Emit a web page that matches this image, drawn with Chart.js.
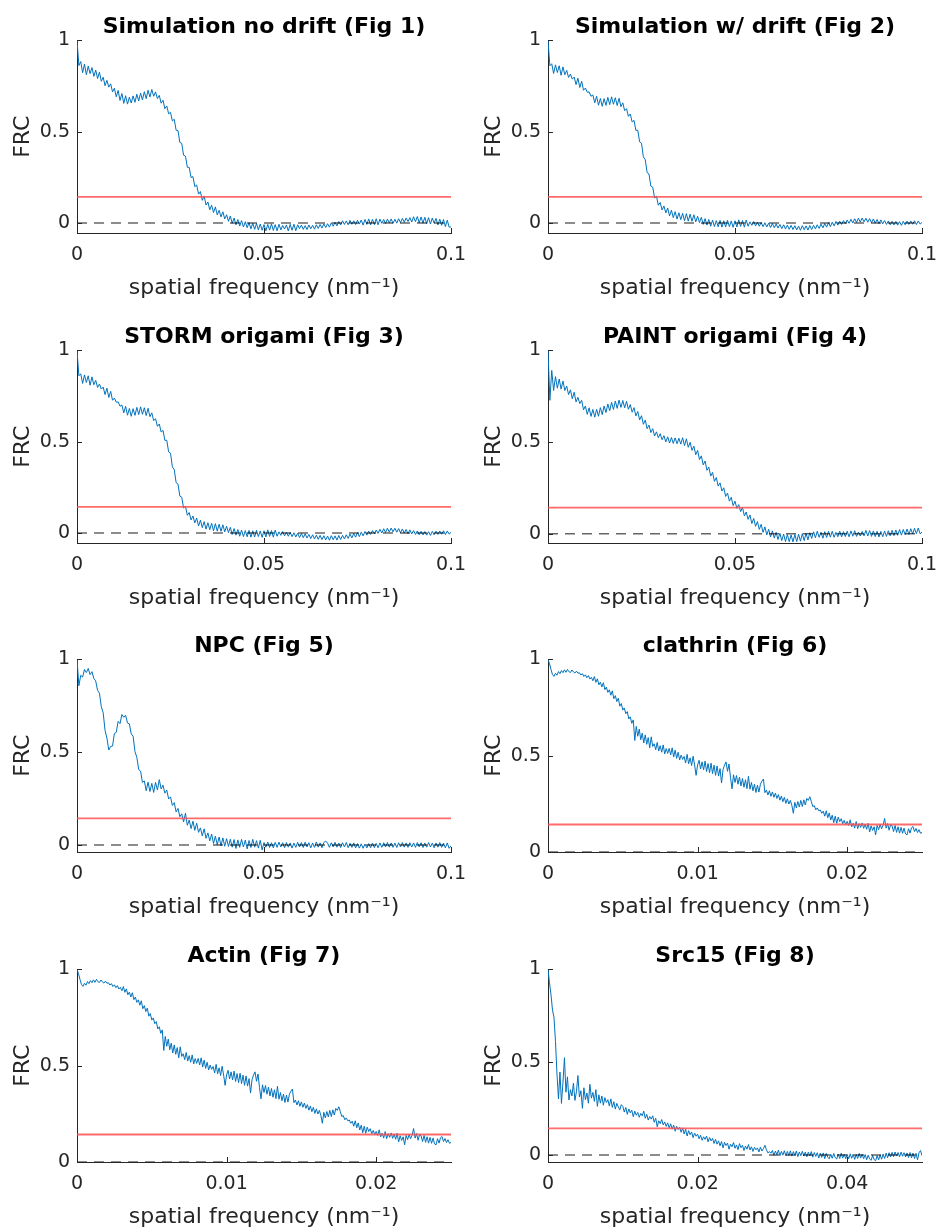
<!DOCTYPE html>
<html>
<head>
<meta charset="utf-8">
<script src="https://cdn.jsdelivr.net/npm/chart.js@4.4.1/dist/chart.umd.min.js"></script>
<style>
  body { margin: 0; background: #fff; }
  #wrap { position: relative; width: 939px; height: 1228px; overflow: hidden; }
  canvas { position: absolute; }
</style>
</head>
<body>
<div id="wrap">
  <canvas id="c1" width="470" height="309" style="left:0px;top:0px"></canvas>
  <canvas id="c2" width="470" height="309" style="left:471px;top:0px"></canvas>
  <canvas id="c3" width="470" height="309" style="left:0px;top:310px"></canvas>
  <canvas id="c4" width="470" height="309" style="left:471px;top:310px"></canvas>
  <canvas id="c5" width="470" height="309" style="left:0px;top:619px"></canvas>
  <canvas id="c6" width="470" height="309" style="left:471px;top:619px"></canvas>
  <canvas id="c7" width="470" height="309" style="left:0px;top:929px"></canvas>
  <canvas id="c8" width="470" height="309" style="left:471px;top:929px"></canvas>
</div>
<script>
// titles of the 8 panels
const titles = [
    'Simulation no drift (Fig 1)', 'Simulation w/ drift (Fig 2)',
    'STORM origami (Fig 3)', 'PAINT origami (Fig 4)',
    'NPC (Fig 5)', 'clathrin (Fig 6)',
    'Actin (Fig 7)', 'Src15 (Fig 8)'
];

const frcThreshold = 1 / 7;

// FRC curves, sampled every 0.0005 nm^-1 from 0 to 0.1
const simNoDrift = [
    1.000, 0.862, 0.884, 0.823, 0.871, 0.812, 0.859, 0.818, 0.851, 0.803,
    0.838, 0.791, 0.826, 0.776, 0.798, 0.752, 0.781, 0.744, 0.762, 0.718,
    0.738, 0.691, 0.726, 0.671, 0.709, 0.655, 0.697, 0.651, 0.689, 0.657,
    0.696, 0.661, 0.705, 0.668, 0.711, 0.674, 0.719, 0.681, 0.727, 0.690,
    0.731, 0.694, 0.718, 0.681, 0.699, 0.656, 0.672, 0.626, 0.641, 0.598,
    0.606, 0.559, 0.568, 0.508, 0.506, 0.441, 0.436, 0.371, 0.366, 0.305,
    0.304, 0.249, 0.254, 0.199, 0.208, 0.158, 0.172, 0.124, 0.148, 0.098,
    0.115, 0.072, 0.097, 0.057, 0.088, 0.044, 0.069, 0.033, 0.061, 0.022,
    0.045, 0.009, 0.038, -0.002, 0.027, -0.010, 0.019, -0.017, 0.013, -0.022,
    0.007, -0.026, 0.002, -0.032, -0.001, -0.035, -0.003, -0.038, -0.006, -0.040,
    -0.009, -0.043, -0.008, -0.039, -0.005, -0.041, -0.009, -0.043, -0.007, -0.038,
    -0.014, -0.033, -0.011, -0.044, -0.008, -0.040, -0.007, -0.042, -0.010, -0.031,
    -0.012, -0.035, -0.015, -0.036, -0.011, -0.032, -0.013, -0.034, -0.010, -0.030,
    -0.008, -0.028, -0.005, -0.025, -0.004, -0.023, 0.001, -0.018, 0.004, -0.016,
    0.008, -0.011, 0.012, -0.008, 0.011, -0.010, 0.014, -0.007, 0.012, -0.009,
    0.015, -0.006, 0.016, -0.012, 0.019, -0.008, 0.022, -0.011, 0.020, -0.009,
    0.023, -0.010, 0.021, -0.002, 0.019, -0.003, 0.021, 0.001, 0.022, -0.002,
    0.020, -0.001, 0.023, 0.002, 0.025, 0.004, 0.027, 0.008, 0.029, 0.005,
    0.034, 0.007, 0.035, 0.001, 0.033, -0.001, 0.031, -0.004, 0.029, -0.006,
    0.027, -0.001, 0.025, -0.011, 0.021, -0.013, 0.019, -0.020, 0.015, -0.022,
    -0.022
];

const simDrift = [
    1.000, 0.861, 0.872, 0.819, 0.866, 0.824, 0.861, 0.809, 0.855, 0.812,
    0.836, 0.797, 0.816, 0.788, 0.799, 0.758, 0.793, 0.742, 0.776, 0.727,
    0.739, 0.716, 0.718, 0.694, 0.701, 0.658, 0.694, 0.645, 0.682, 0.639,
    0.681, 0.644, 0.688, 0.648, 0.691, 0.650, 0.686, 0.643, 0.683, 0.637,
    0.658, 0.615, 0.626, 0.584, 0.597, 0.553, 0.562, 0.507, 0.508, 0.444,
    0.437, 0.362, 0.347, 0.276, 0.268, 0.202, 0.196, 0.137, 0.146, 0.097,
    0.112, 0.071, 0.093, 0.055, 0.082, 0.038, 0.070, 0.029, 0.062, 0.021,
    0.056, 0.018, 0.053, 0.012, 0.051, 0.010, 0.048, 0.009, 0.045, 0.006,
    0.037, 0.002, 0.031, -0.008, 0.024, -0.012, 0.019, -0.018, 0.016, -0.020,
    0.013, -0.021, 0.014, -0.023, 0.012, -0.022, 0.015, -0.020, 0.011, -0.024,
    0.012, -0.022, 0.017, -0.019, 0.013, -0.023, 0.016, -0.018, 0.006, -0.013,
    0.008, -0.016, 0.004, -0.018, 0.003, -0.020, 0.001, -0.022, -0.001, -0.025,
    -0.003, -0.026, -0.005, -0.028, -0.008, -0.031, -0.010, -0.033, -0.012, -0.035,
    -0.013, -0.036, -0.015, -0.038, -0.017, -0.040, -0.015, -0.037, -0.016, -0.039,
    -0.014, -0.036, -0.013, -0.033, -0.010, -0.030, -0.006, -0.027, -0.003, -0.023,
    0.002, -0.020, 0.004, -0.016, 0.008, -0.012, 0.010, -0.008, 0.013, -0.004,
    0.016, -0.002, 0.020, 0.000, 0.023, 0.003, 0.026, 0.005, 0.027, 0.006,
    0.026, 0.004, 0.024, 0.001, 0.022, -0.001, 0.019, -0.004, 0.017, -0.005,
    0.013, -0.008, 0.011, -0.010, 0.009, -0.011, 0.008, -0.012, 0.007, -0.013,
    0.009, -0.010, 0.010, -0.008, 0.011, -0.007, 0.012, -0.009, 0.011, -0.006,
    0.003
];

// STORM origami looks the same as the drift simulation
const stormOrigami = simDrift;

const paintOrigami = [
    1.000, 0.728, 0.891, 0.781, 0.857, 0.794, 0.844, 0.789, 0.833, 0.781,
    0.806, 0.759, 0.785, 0.736, 0.772, 0.719, 0.744, 0.710, 0.728, 0.676,
    0.697, 0.651, 0.687, 0.640, 0.678, 0.636, 0.679, 0.641, 0.688, 0.650,
    0.697, 0.661, 0.708, 0.671, 0.717, 0.678, 0.724, 0.684, 0.729, 0.689,
    0.727, 0.687, 0.722, 0.679, 0.705, 0.663, 0.688, 0.643, 0.667, 0.621,
    0.644, 0.597, 0.620, 0.573, 0.593, 0.552, 0.573, 0.533, 0.556, 0.524,
    0.546, 0.513, 0.535, 0.501, 0.529, 0.495, 0.525, 0.493, 0.523, 0.491,
    0.521, 0.489, 0.524, 0.481, 0.518, 0.472, 0.499, 0.455, 0.478, 0.431,
    0.455, 0.405, 0.425, 0.376, 0.397, 0.346, 0.364, 0.315, 0.335, 0.286,
    0.307, 0.260, 0.278, 0.233, 0.251, 0.204, 0.222, 0.178, 0.199, 0.154,
    0.178, 0.139, 0.159, 0.121, 0.144, 0.098, 0.119, 0.079, 0.103, 0.056,
    0.084, 0.041, 0.067, 0.024, 0.052, 0.008, 0.038, -0.006, 0.025, -0.017,
    0.016, -0.023, 0.008, -0.031, 0.003, -0.037, -0.001, -0.042, -0.004, -0.043,
    -0.006, -0.044, -0.004, -0.042, -0.002, -0.040, 0.001, -0.037, 0.003, -0.033,
    0.006, -0.025, 0.011, -0.021, 0.014, -0.019, 0.009, -0.024, 0.012, -0.020,
    0.013, -0.018, 0.014, -0.019, 0.008, -0.016, 0.015, -0.017, 0.012, -0.015,
    0.014, -0.016, 0.016, -0.013, 0.017, -0.014, 0.010, -0.012, 0.013, -0.011,
    0.019, -0.012, 0.018, -0.014, 0.016, -0.015, 0.014, -0.017, 0.013, -0.016,
    0.015, -0.014, 0.017, -0.011, 0.019, -0.010, 0.021, -0.008, 0.023, -0.007,
    0.024, -0.005, 0.026, -0.003, 0.028, -0.001, 0.030, 0.001, 0.032, 0.000,
    0.010
];

const npc = [
    1.000, 0.858, 0.914, 0.905, 0.946, 0.929, 0.951, 0.918, 0.934, 0.897,
    0.884, 0.833, 0.818, 0.745, 0.712, 0.617, 0.576, 0.512, 0.531, 0.533,
    0.601, 0.607, 0.666, 0.654, 0.703, 0.688, 0.699, 0.657, 0.653, 0.598,
    0.586, 0.503, 0.472, 0.406, 0.398, 0.337, 0.345, 0.292, 0.339, 0.288,
    0.332, 0.283, 0.337, 0.296, 0.352, 0.302, 0.322, 0.279, 0.296, 0.248,
    0.259, 0.213, 0.228, 0.178, 0.197, 0.152, 0.168, 0.124, 0.171, 0.106,
    0.134, 0.088, 0.128, 0.079, 0.117, 0.068, 0.092, 0.049, 0.087, 0.036,
    0.065, 0.022, 0.059, 0.008, 0.047, 0.001, 0.043, -0.004, 0.038, -0.007,
    0.034, -0.008, 0.031, -0.012, 0.029, -0.019, 0.027, -0.013, 0.030, -0.011,
    0.026, -0.021, 0.024, -0.014, 0.030, -0.012, 0.023, -0.017, 0.025, -0.027,
    0.013, -0.012, 0.016, -0.014, 0.012, -0.016, 0.014, -0.013, 0.015, -0.011,
    0.012, -0.015, 0.013, -0.012, 0.011, -0.017, 0.010, -0.013, 0.014, -0.011,
    0.013, -0.014, 0.015, -0.011, 0.012, -0.016, 0.011, -0.013, 0.016, -0.012,
    0.011, -0.015, 0.013, 0.021, 0.010, -0.013, 0.012, -0.011, 0.014, -0.012,
    0.010, -0.014, 0.012, -0.011, 0.013, -0.015, 0.009, -0.013, 0.011, -0.016,
    0.007, -0.017, 0.006, -0.018, 0.005, -0.016, 0.007, -0.015, 0.010, -0.014,
    0.008, -0.015, 0.011, -0.013, 0.012, -0.011, 0.013, -0.012, 0.011, -0.013,
    0.010, -0.014, 0.012, -0.011, 0.013, -0.012, 0.011, -0.013, 0.012, -0.011,
    0.011, -0.013, 0.013, -0.010, 0.012, -0.014, 0.010, -0.012, 0.013, -0.011,
    0.010, -0.015, 0.011, -0.012, 0.013, -0.013, 0.010, -0.016, 0.011, -0.018,
    -0.004
];

// sampled every 0.0001 nm^-1 from 0 to 0.025
const clathrin = [
    1.000, 0.978, 0.948, 0.921, 0.912, 0.928, 0.918, 0.937, 0.926, 0.942,
    0.931, 0.946, 0.933, 0.948, 0.936, 0.932, 0.945, 0.935, 0.929, 0.939,
    0.928, 0.931, 0.919, 0.926, 0.911, 0.920, 0.905, 0.916, 0.898, 0.907,
    0.889, 0.911, 0.881, 0.899, 0.868, 0.882, 0.857, 0.879, 0.843, 0.856,
    0.829, 0.842, 0.814, 0.837, 0.796, 0.812, 0.781, 0.799, 0.757, 0.771,
    0.737, 0.748, 0.718, 0.729, 0.691, 0.702, 0.668, 0.686, 0.579, 0.652,
    0.601, 0.638, 0.583, 0.617, 0.566, 0.608, 0.559, 0.594, 0.541, 0.598,
    0.548, 0.562, 0.531, 0.569, 0.524, 0.552, 0.518, 0.556, 0.509, 0.537,
    0.512, 0.538, 0.504, 0.541, 0.493, 0.529, 0.486, 0.518, 0.478, 0.503,
    0.481, 0.496, 0.462, 0.507, 0.458, 0.489, 0.449, 0.497, 0.452, 0.398,
    0.452, 0.476, 0.431, 0.468, 0.426, 0.472, 0.418, 0.459, 0.412, 0.461,
    0.407, 0.451, 0.398, 0.447, 0.394, 0.433, 0.358, 0.428, 0.451, 0.468,
    0.419, 0.457, 0.386, 0.328, 0.401, 0.361, 0.397, 0.352, 0.389, 0.343,
    0.382, 0.336, 0.375, 0.329, 0.393, 0.326, 0.361, 0.318, 0.352, 0.309,
    0.347, 0.311, 0.352, 0.368, 0.379, 0.308, 0.322, 0.296, 0.318, 0.289,
    0.312, 0.284, 0.306, 0.278, 0.298, 0.269, 0.291, 0.261, 0.284, 0.252,
    0.276, 0.249, 0.268, 0.242, 0.201, 0.258, 0.229, 0.262, 0.234, 0.268,
    0.236, 0.271, 0.244, 0.278, 0.268, 0.287, 0.263, 0.236, 0.241, 0.219,
    0.229, 0.214, 0.218, 0.201, 0.212, 0.186, 0.214, 0.178, 0.203, 0.166,
    0.191, 0.152, 0.186, 0.149, 0.181, 0.158, 0.173, 0.147, 0.164, 0.142,
    0.159, 0.138, 0.167, 0.131, 0.149, 0.124, 0.158, 0.121, 0.147, 0.128,
    0.151, 0.123, 0.144, 0.118, 0.149, 0.104, 0.136, 0.112, 0.131, 0.089,
    0.138, 0.116, 0.143, 0.121, 0.139, 0.174, 0.124, 0.148, 0.113, 0.142,
    0.136, 0.106, 0.138, 0.102, 0.131, 0.098, 0.128, 0.097, 0.124, 0.094,
    0.089, 0.121, 0.098, 0.126, 0.132, 0.106, 0.122, 0.101, 0.116, 0.097,
    0.102
];

// Actin panel shows the same curve as clathrin
const actin = clathrin;

// sampled every 0.0002 nm^-1 from 0 to 0.05
const src15 = [
    1.000, 0.928, 0.864, 0.781, 0.742, 0.612, 0.436, 0.302, 0.447, 0.278,
    0.392, 0.524, 0.338, 0.421, 0.296, 0.352, 0.318, 0.387, 0.294, 0.341,
    0.428, 0.312, 0.346, 0.251, 0.362, 0.298, 0.334, 0.279, 0.381, 0.306,
    0.337, 0.289, 0.352, 0.262, 0.324, 0.279, 0.318, 0.268, 0.309, 0.283,
    0.298, 0.264, 0.302, 0.256, 0.287, 0.247, 0.278, 0.259, 0.243, 0.271,
    0.262, 0.231, 0.256, 0.219, 0.248, 0.227, 0.241, 0.206, 0.236, 0.214,
    0.229, 0.203, 0.224, 0.211, 0.236, 0.198, 0.219, 0.188, 0.207, 0.193,
    0.211, 0.176, 0.198, 0.152, 0.184, 0.169, 0.191, 0.162, 0.178, 0.154,
    0.173, 0.146, 0.168, 0.139, 0.161, 0.128, 0.154, 0.137, 0.149, 0.122,
    0.146, 0.113, 0.138, 0.102, 0.131, 0.109, 0.124, 0.093, 0.118, 0.101,
    0.112, 0.087, 0.106, 0.079, 0.098, 0.084, 0.102, 0.071, 0.094, 0.076,
    0.089, 0.062, 0.084, 0.058, 0.076, 0.049, 0.072, 0.038, 0.068, 0.051,
    0.064, 0.031, 0.058, 0.044, 0.067, 0.036, 0.054, 0.029, 0.061, 0.039,
    0.052, 0.024, 0.048, 0.031, 0.056, 0.027, 0.044, 0.019, 0.041, 0.028,
    0.038, 0.016, 0.042, 0.021, 0.034, 0.052, 0.028, 0.011, 0.018, 0.009,
    0.024, -0.002, 0.021, 0.001, 0.026, -0.004, 0.019, -0.001, 0.023, -0.005,
    0.019, -0.003, 0.022, -0.006, 0.018, -0.002, 0.021, -0.009, 0.016, -0.004,
    0.020, -0.006, 0.016, -0.010, 0.015, -0.005, 0.018, -0.012, 0.013, -0.008,
    0.012, -0.016, 0.010, -0.013, 0.011, -0.020, 0.009, -0.012, -0.021, 0.004,
    -0.018, 0.008, -0.015, -0.022, 0.005, -0.019, 0.009, -0.017, 0.004, -0.020,
    0.003, -0.021, 0.006, -0.018, 0.004, -0.024, 0.002, -0.019, 0.008, -0.017,
    0.004, -0.020, 0.002, -0.026, -0.001, -0.022, -0.029, -0.002, -0.025, -0.031,
    -0.004, -0.027, 0.001, -0.023, 0.005, -0.019, 0.010, -0.015, 0.012, -0.011,
    0.014, -0.009, 0.016, -0.006, 0.013, -0.010, 0.015, -0.007, 0.012, -0.011,
    0.011, -0.014, 0.013, -0.016, 0.010, -0.019, 0.009, -0.026, 0.012, 0.024,
    -0.004
];

// tick values
const yTickValues = [0, 0.5, 1];
const xTicksWide = [0, 0.05, 0.1];
const xTicksNarrow = [0, 0.01, 0.02];
const xTicksSrc = [0, 0.02, 0.04];

const panels = [
    { id: 'c1', title: titles[0], values: simNoDrift, step: 0.0005, xMax: 0.1, yMin: -0.055, xTicks: xTicksWide },
    { id: 'c2', title: titles[1], values: simDrift, step: 0.0005, xMax: 0.1, yMin: -0.055, xTicks: xTicksWide },
    { id: 'c3', title: titles[2], values: stormOrigami, step: 0.0005, xMax: 0.1, yMin: -0.055, xTicks: xTicksWide },
    { id: 'c4', title: titles[3], values: paintOrigami, step: 0.0005, xMax: 0.1, yMin: -0.05, xTicks: xTicksWide },
    { id: 'c5', title: titles[4], values: npc, step: 0.0005, xMax: 0.1, yMin: -0.038, xTicks: xTicksWide },
    { id: 'c6', title: titles[5], values: clathrin, step: 0.0001, xMax: 0.025, yMin: 0, xTicks: xTicksNarrow },
    { id: 'c7', title: titles[6], values: actin, step: 0.0001, xMax: 0.025, yMin: 0, xTicks: xTicksNarrow },
    { id: 'c8', title: titles[7], values: src15, step: 0.0002, xMax: 0.05, yMin: -0.038, xTicks: xTicksSrc }
];

const axisColor = '#262626';
const fontFamily = '"DejaVu Sans", sans-serif';

// matlab style ticks pointing into the axes
const inwardTicks = {
    id: 'inwardTicks',
    afterDraw(chart) {
        const { ctx, chartArea: a, scales: { x, y } } = chart;
        ctx.save();
        ctx.strokeStyle = axisColor;
        ctx.lineWidth = 1;
        ctx.beginPath();
        for (const t of x.ticks) {
            const px = Math.round(x.getPixelForValue(t.value)) + 0.5;
            ctx.moveTo(px, a.bottom);
            ctx.lineTo(px, a.bottom - 5);
        }
        for (const t of y.ticks) {
            const py = Math.round(y.getPixelForValue(t.value)) + 0.5;
            ctx.moveTo(a.left, py);
            ctx.lineTo(a.left + 5, py);
        }
        ctx.stroke();
        ctx.restore();
    }
};

function makeChart(p) {
    const curve = p.values.map((v, i) => ({ x: i * p.step, y: v }));
    new Chart(document.getElementById(p.id), {
        type: 'line',
        data: {
            datasets: [
                {
                    data: [{ x: 0, y: 0 }, { x: p.xMax, y: 0 }],
                    borderColor: 'rgba(0,0,0,0.6)',
                    borderWidth: 1.5,
                    borderDash: [10, 7]
                },
                {
                    data: [{ x: 0, y: frcThreshold }, { x: p.xMax, y: frcThreshold }],
                    borderColor: 'rgba(255,80,80,0.85)',
                    borderWidth: 1.8
                },
                {
                    data: curve,
                    borderColor: '#0072BD',
                    borderWidth: 1
                }
            ]
        },
        options: {
            responsive: false,
            animation: false,
            events: [],
            layout: { padding: { left: 0, right: 19, top: 0, bottom: 0 } },
            elements: { point: { radius: 0 }, line: { tension: 0 } },
            plugins: {
                legend: { display: false },
                tooltip: { enabled: false },
                title: {
                    display: true,
                    text: p.title,
                    fullSize: false,
                    color: '#000',
                    font: { family: fontFamily, size: 22, weight: 'bold' },
                    padding: { top: 14, bottom: 0 }
                }
            },
            scales: {
                x: {
                    type: 'linear',
                    min: 0,
                    max: p.xMax,
                    afterBuildTicks: s => { s.ticks = p.xTicks.map(v => ({ value: v })); },
                    afterFit: s => {
                        s.height = 76;
                        s.paddingLeft = 0;
                        s.paddingRight = 0;
                    },
                    grid: { display: false, drawTicks: false },
                    border: { display: true, color: axisColor, width: 1 },
                    ticks: {
                        callback: v => String(v),
                        color: axisColor,
                        font: { family: fontFamily, size: 19 },
                        padding: 11,
                        maxRotation: 0,
                        autoSkip: false
                    },
                    title: {
                        display: true,
                        text: 'spatial frequency (nm⁻¹)',
                        color: axisColor,
                        font: { family: fontFamily, size: 22 },
                        padding: { top: 0, bottom: 8 }
                    }
                },
                y: {
                    min: p.yMin,
                    max: 1,
                    afterBuildTicks: s => { s.ticks = yTickValues.map(v => ({ value: v })); },
                    afterFit: s => { s.width = 77; },
                    grid: { display: false, drawTicks: false },
                    border: { display: true, color: axisColor, width: 1 },
                    ticks: {
                        callback: v => String(v),
                        color: axisColor,
                        font: { family: fontFamily, size: 19 },
                        padding: 7
                    },
                    title: {
                        display: true,
                        text: 'FRC',
                        color: axisColor,
                        font: { family: fontFamily, size: 22 },
                        padding: { top: 10, bottom: 0 }
                    }
                }
            }
        },
        plugins: [inwardTicks]
    });
}

panels.forEach(makeChart);
</script>
</body>
</html>
